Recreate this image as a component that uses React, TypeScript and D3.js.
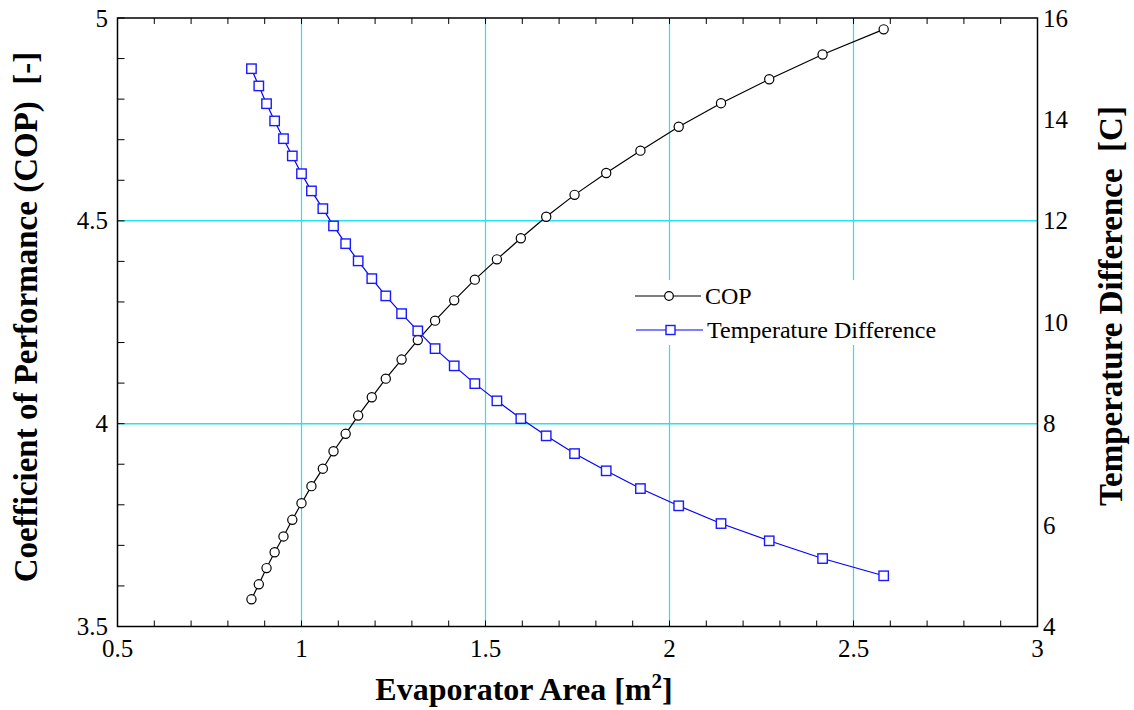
import React from "react";
import * as d3 from "d3";

const areaValues = [
  0.864, 0.884, 0.905, 0.927, 0.951, 0.975, 1.0, 1.027, 1.058, 1.087,
  1.12, 1.154, 1.191, 1.229, 1.272, 1.316, 1.363, 1.415, 1.471, 1.531,
  1.596, 1.665, 1.742, 1.828, 1.921, 2.025, 2.14, 2.271, 2.416, 2.582,
];
const copValues = [
  3.567, 3.604, 3.644, 3.683, 3.722, 3.763, 3.804, 3.846, 3.889, 3.932,
  3.975, 4.02, 4.065, 4.111, 4.158, 4.206, 4.254, 4.304, 4.355, 4.405,
  4.457, 4.51, 4.564, 4.618, 4.673, 4.732, 4.79, 4.849, 4.91, 4.972,
];
const tempDiffValues = [
  15.0, 14.66, 14.31, 13.97, 13.62, 13.28, 12.93, 12.59, 12.24, 11.9,
  11.55, 11.21, 10.86, 10.52, 10.17, 9.83, 9.48, 9.14, 8.79, 8.45,
  8.1, 7.76, 7.41, 7.07, 6.72, 6.38, 6.03, 5.69, 5.34, 5.0,
];
const xTicks = [0.5, 1, 1.5, 2, 2.5, 3];
const yLeftTicks = [3.5, 4, 4.5, 5];
const yRightTicks = [4, 6, 8, 10, 12, 14, 16];
const xGrid = [1, 1.5, 2, 2.5];
const yGrid = [4, 4.5];
const seriesNames = ["COP", "Temperature Difference"];

export default function App() {
  const W = 1134, H = 710;
  const L = 117.5, R = 1037.5, T = 18, B = 626.5;
  const x = d3.scaleLinear().domain([0.5, 3]).range([L, R]);
  const yL = d3.scaleLinear().domain([3.5, 5]).range([B, T]);
  const yR = d3.scaleLinear().domain([4, 16]).range([B, T]);
  const font = "'Liberation Serif', 'Times New Roman', serif";
  const grid = "#22e4f0";

  const copPts = areaValues.map((a, i) => [x(a), yL(copValues[i])] as [number, number]);
  const tdPts = areaValues.map((a, i) => [x(a), yR(tempDiffValues[i])] as [number, number]);
  const line = d3.line();

  const xMinor = d3.range(5, 31).map((v) => v / 10);
  const yMinor = d3.range(35, 51).map((v) => v / 10);
  const tick = 6;

  return (
    <svg width={W} height={H} style={{ position: "absolute", left: 0, top: 0, background: "#fff" }}>
      <rect x={0} y={0} width={W} height={H} fill="#fff" />
      {xGrid.map((v) => (
        <line key={"gx" + v} x1={x(v)} x2={x(v)} y1={T} y2={B} stroke={grid} strokeWidth={1.2} />
      ))}
      {yGrid.map((v) => (
        <line key={"gy" + v} x1={L} x2={R} y1={yL(v)} y2={yL(v)} stroke={grid} strokeWidth={1.5} />
      ))}
      <rect x={628} y={280} width={318} height={65} fill="#fff" />
      {xMinor.map((v) => (
        <g key={"xt" + v}>
          <line x1={x(v)} x2={x(v)} y1={B} y2={B - tick} stroke="#000" strokeWidth={1} />
          <line x1={x(v)} x2={x(v)} y1={T} y2={T + tick} stroke="#000" strokeWidth={1} />
        </g>
      ))}
      {yMinor.map((v) => (
        <line key={"yt" + v} x1={L} x2={L + tick + 1} y1={yL(v)} y2={yL(v)} stroke="#000" strokeWidth={1} />
      ))}
      <rect x={L} y={T} width={R - L} height={B - T} fill="none" stroke="#000" strokeWidth={1.5} />
      <path d={line(copPts) || ""} fill="none" stroke="#000" strokeWidth={1.2} />
      {copPts.map((p, i) => (
        <circle key={"c" + i} cx={p[0]} cy={p[1]} r={4.6} fill="#fff" stroke="#000" strokeWidth={1.2} />
      ))}
      <path d={line(tdPts) || ""} fill="none" stroke="#0000ff" strokeWidth={1.2} />
      {tdPts.map((p, i) => (
        <rect key={"s" + i} x={p[0] - 4.7} y={p[1] - 4.7} width={9.4} height={9.4} fill="#fff" stroke="#1a1aff" strokeWidth={1.4} />
      ))}
      {xTicks.map((v) => (
        <text key={"xl" + v} x={x(v)} y={657} textAnchor="middle" fontFamily={font} fontSize={25}>
          {String(v)}
        </text>
      ))}
      {yLeftTicks.map((v) => (
        <text key={"yl" + v} x={108} y={yL(v) + 8.5} textAnchor="end" fontFamily={font} fontSize={25}>
          {String(v)}
        </text>
      ))}
      {yRightTicks.map((v) => (
        <text key={"yr" + v} x={1043} y={yR(v) + 8.5} textAnchor="start" fontFamily={font} fontSize={25}>
          {String(v)}
        </text>
      ))}
      <line x1={635} x2={701} y1={296} y2={296} stroke="#000" strokeWidth={1.2} />
      <circle cx={669} cy={296} r={4.3} fill="#fff" stroke="#000" strokeWidth={1.2} />
      <text x={705} y={304} fontFamily={font} fontSize={24}>{seriesNames[0]}</text>
      <line x1={636} x2={703} y1={330} y2={330} stroke="#0000ff" strokeWidth={1.2} />
      <rect x={666} y={325.5} width={9} height={9} fill="#fff" stroke="#1a1aff" strokeWidth={1.4} />
      <text x={707} y={338} fontFamily={font} fontSize={24}>{seriesNames[1]}</text>
      <text x={524} y={700} textAnchor="middle" fontFamily={font} fontSize={32} fontWeight="bold">
        Evaporator Area [m<tspan dy={-12} fontSize={21}>2</tspan><tspan dy={12}>]</tspan>
      </text>
      <text transform={`translate(37,317) rotate(-90)`} textAnchor="middle" fontFamily={font} fontSize={33} fontWeight="bold" style={{ whiteSpace: "pre" }}>
        {"Coefficient of Performance (COP)  [-]"}
      </text>
      <text transform={`translate(1122,306) rotate(-90)`} textAnchor="middle" fontFamily={font} fontSize={33} fontWeight="bold" style={{ whiteSpace: "pre" }}>
        {"Temperature Difference  [C]"}
      </text>
    </svg>
  );
}
